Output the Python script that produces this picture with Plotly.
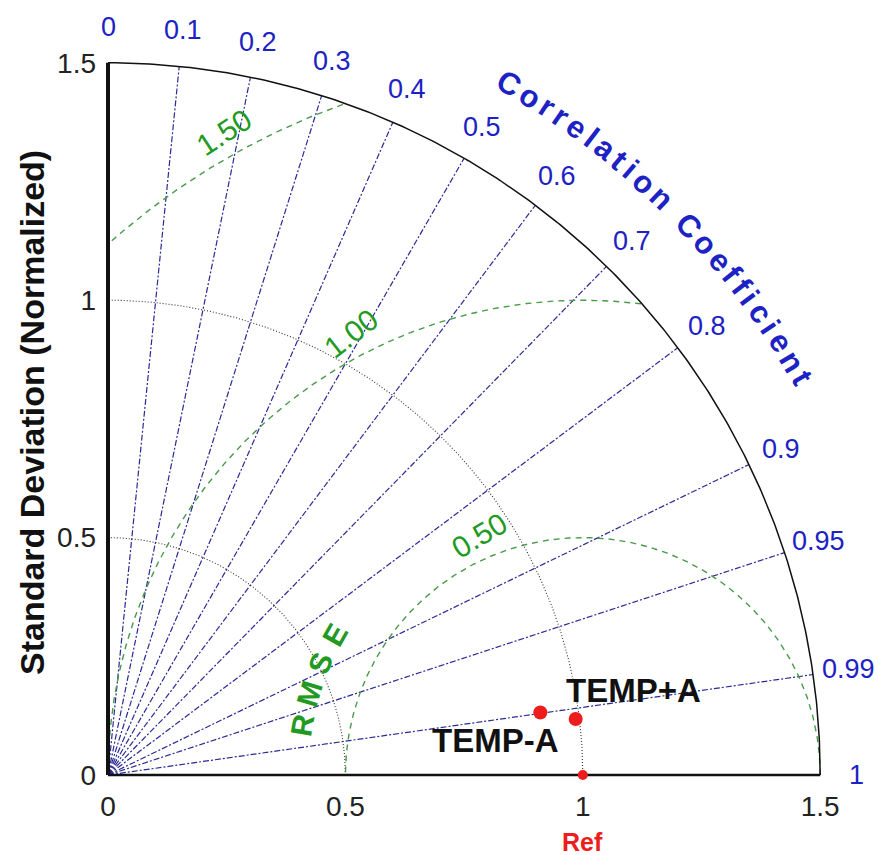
import numpy as np
import plotly.graph_objects as go

# ---- data ----
model_names = ["TEMP-A", "TEMP+A"]
model_std = [0.92, 0.992]          # normalized standard deviation
model_corr = [0.9897, 0.9929]      # correlation with reference
ref_std = 1.0

corr_ticks = [0, 0.1, 0.2, 0.3, 0.4, 0.5, 0.6, 0.7, 0.8, 0.9, 0.95, 0.99, 1]
corr_tick_text = ["0", "0.1", "0.2", "0.3", "0.4", "0.5", "0.6", "0.7", "0.8", "0.9", "0.95", "0.99", "1"]
std_ticks = [0, 0.5, 1, 1.5]
std_tick_text = ["0", "0.5", "1", "1.5"]
std_arcs = [0.5, 1.0]
rmse_levels = [0.5, 1.0, 1.5]
rmse_text = ["0.50", "1.00", "1.50"]
std_max = 1.5

# ---- styling ----
FONT = "Arial, Liberation Sans, sans-serif"
BLUE_TXT = "#1c22c4"
GRID_BLUE = "#2a2a94"
GREEN_TXT = "#229a22"
GREEN_LINE = "#4a9a4a"
RED = "#ee1c1c"

W, H = 878, 855
PX = 474.8                      # pixels per unit
OX, OY = 108, 775               # pixel position of the origin
xmin, xmax = -OX / PX, (W - OX) / PX
ymin, ymax = -(H - OY) / PX, OY / PX

fig = go.Figure()

# correlation rays
rx, ry = [], []
for c in corr_ticks[1:-1]:
    th = np.arccos(c)
    rx += [0, std_max * np.cos(th), None]
    ry += [0, std_max * np.sin(th), None]
fig.add_trace(go.Scatter(x=rx, y=ry, mode="lines", hoverinfo="skip",
                         line=dict(color=GRID_BLUE, width=1.2, dash="6px,2px,2px,2px")))

# standard deviation arcs
t = np.linspace(0, np.pi / 2, 300)
for s in std_arcs:
    fig.add_trace(go.Scatter(x=s * np.cos(t), y=s * np.sin(t), mode="lines", hoverinfo="skip",
                             line=dict(color="#333333", width=1.1, dash="1px,2px")))

# RMSE contours centred on the reference point
phi = np.linspace(0, np.pi, 600)
for rm in rmse_levels:
    cx = ref_std + rm * np.cos(phi)
    cy = rm * np.sin(phi)
    keep = (cx >= 0) & (cx ** 2 + cy ** 2 <= std_max ** 2 + 1e-9)
    fig.add_trace(go.Scatter(x=cx[keep], y=cy[keep], mode="lines", hoverinfo="skip",
                             line=dict(color=GREEN_LINE, width=1.4, dash="6px,5px")))

# outer arc and axis lines
fig.add_trace(go.Scatter(x=std_max * np.cos(t), y=std_max * np.sin(t), mode="lines",
                         hoverinfo="skip", line=dict(color="#111111", width=1.5)))
fig.add_trace(go.Scatter(x=[0, 0], y=[0, std_max], mode="lines", hoverinfo="skip",
                         line=dict(color="#111111", width=4)))
fig.add_trace(go.Scatter(x=[0, std_max], y=[0, 0], mode="lines", hoverinfo="skip",
                         line=dict(color="#111111", width=2.5)))

# model points
mx = [s * c for s, c in zip(model_std, model_corr)]
my = [s * np.sin(np.arccos(c)) for s, c in zip(model_std, model_corr)]
fig.add_trace(go.Scatter(x=mx, y=my, mode="markers", text=model_names,
                         marker=dict(color=RED, size=14)))
fig.add_trace(go.Scatter(x=[ref_std], y=[0], mode="markers",
                         marker=dict(color=RED, size=10)))

ann = []

# correlation tick labels
R_LAB = 1.576
for c, txt in zip(corr_ticks, corr_tick_text):
    th = np.arccos(c)
    ann.append(dict(x=R_LAB * np.cos(th), y=R_LAB * np.sin(th), text=txt, showarrow=False,
                    xanchor="center", yanchor="middle",
                    font=dict(family=FONT, size=27, color=BLUE_TXT)))

# curved "Correlation Coefficient" title
title = "Correlation Coefficient"
widths = {"C": .722, "o": .611, "r": .389, "e": .556, "l": .278, "a": .556, "t": .333,
          "i": .278, "n": .611, " ": .278, "f": .333, "c": .556}
track = 0.2
centers, pos = [], 0.0
for i, ch in enumerate(title):
    w = widths[ch]
    if i > 0:
        pos += w / 2
    centers.append(pos)
    pos += w / 2 + track
a0, a1 = 59.9, 29.8
R_TTL = 1.684
for ch, cpos in zip(title, centers):
    if ch == " ":
        continue
    ang = a0 + (a1 - a0) * cpos / centers[-1]
    th = np.radians(ang)
    ann.append(dict(x=R_TTL * np.cos(th), y=R_TTL * np.sin(th), text="<b>" + ch + "</b>",
                    showarrow=False, xanchor="center", yanchor="middle", textangle=90 - ang,
                    font=dict(family=FONT, size=31, color=BLUE_TXT)))

# RMSE contour labels
rmse_lab_ang = [113.4, 117.7, 119.2]
rmse_lab_rot = [-31, -38, -33]
for rm, txt, ang, rot in zip(rmse_levels, rmse_text, rmse_lab_ang, rmse_lab_rot):
    th = np.radians(ang)
    rr = rm + 0.05
    ann.append(dict(x=ref_std + rr * np.cos(th), y=rr * np.sin(th), text=txt, showarrow=False,
                    xanchor="center", yanchor="middle", textangle=rot,
                    font=dict(family=FONT, size=30, color=GREEN_TXT)))

# "RMSE" along a small arc
for ch, ang in zip("RMSE", np.linspace(169.8, 150.6, 4)):
    th = np.radians(ang)
    ann.append(dict(x=ref_std + 0.6 * np.cos(th), y=0.6 * np.sin(th), text="<b>" + ch + "</b>",
                    showarrow=False, xanchor="center", yanchor="middle", textangle=90 - ang,
                    font=dict(family=FONT, size=30, color=GREEN_TXT)))

# model labels
shifts = {"TEMP-A": (-45, -28), "TEMP+A": (58, 28)}
for name, x, y in zip(model_names, mx, my):
    dx, dy = shifts[name]
    ann.append(dict(x=x, y=y, text="<b>" + name + "</b>", showarrow=False,
                    xanchor="center", yanchor="middle", xshift=dx, yshift=dy,
                    font=dict(family=FONT, size=33, color="#111111")))

# reference label
ann.append(dict(x=ref_std, y=0, text="<b>Ref</b>", showarrow=False, xanchor="center",
                yanchor="middle", yshift=-67, borderpad=0,
                font=dict(family=FONT, size=25, color=RED)))

# y-axis title
ann.append(dict(x=32 / W, y=1 - 413 / H, xref="paper", yref="paper",
                text="<b>Standard Deviation (Normalized)</b>", showarrow=False,
                textangle=-90, xanchor="center", yanchor="middle",
                font=dict(family=FONT, size=34, color="#111111")))

fig.update_layout(
    width=W, height=H, margin=dict(l=0, r=0, t=0, b=0),
    paper_bgcolor="white", plot_bgcolor="white", showlegend=False,
    xaxis=dict(range=[xmin, xmax], showgrid=False, zeroline=False, showline=False,
               tickvals=std_ticks, ticktext=std_tick_text, ticks="",
               anchor="free", position=(0 - ymin) / (ymax - ymin), ticklabelstandoff=12,
               tickfont=dict(family=FONT, size=28, color="#222222"), fixedrange=True),
    yaxis=dict(range=[ymin, ymax], showgrid=False, zeroline=False, showline=False,
               tickvals=std_ticks, ticktext=std_tick_text, ticks="",
               anchor="free", position=(0 - xmin) / (xmax - xmin), ticklabelstandoff=12,
               tickfont=dict(family=FONT, size=28, color="#222222"), fixedrange=True),
    annotations=ann,
)

fig.write_html("out.html")
